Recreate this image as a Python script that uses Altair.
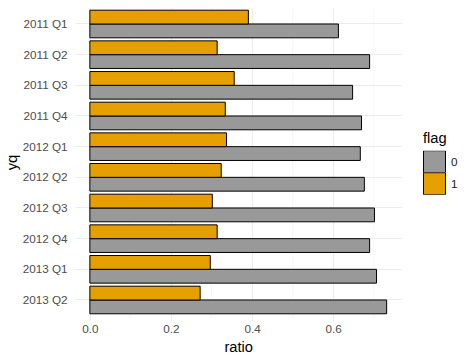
import altair as alt
import pandas as pd

categories = ["2011 Q1", "2011 Q2", "2011 Q3", "2011 Q4", "2012 Q1",
              "2012 Q2", "2012 Q3", "2012 Q4", "2013 Q1", "2013 Q2"]
ratio_flag0 = [0.613, 0.690, 0.648, 0.670, 0.667, 0.677, 0.702, 0.690, 0.707, 0.732]
ratio_flag1 = [0.391, 0.314, 0.356, 0.334, 0.337, 0.324, 0.302, 0.314, 0.297, 0.272]
flags = ["0", "1"]
x_ticks = [0.0, 0.2, 0.4, 0.6]
x_minor = [0.1, 0.3, 0.5, 0.7]

rows = []
for c, v0, v1 in zip(categories, ratio_flag0, ratio_flag1):
    rows.append({"yq": c, "flag": "0", "ratio": v0})
    rows.append({"yq": c, "flag": "1", "ratio": v1})
df = pd.DataFrame(rows)
minor_df = pd.DataFrame({"m": x_minor})

FONT = "Liberation Sans"
xmin, xmax = -0.0366, 0.7686
W = 326.5
H = 310.4

xscale = alt.Scale(domain=[xmin, xmax], nice=False, zero=False)
yscale = alt.Scale(domain=categories, paddingInner=0.1, paddingOuter=0.15, range=[-2.4, H])

xaxis = alt.Axis(values=x_ticks, format=".1f", title="ratio", grid=True,
                 gridColor="#EBEBEB", gridWidth=1.1, ticks=False, domain=False,
                 labelColor="#4D4D4D", labelFontSize=11.7, labelFont=FONT,
                 labelPadding=5, titleFont=FONT, titleFontSize=14.7,
                 titleFontWeight="normal", titleColor="black", titlePadding=4)

minor = alt.Chart(minor_df).mark_rule(color="#F2F2F2", strokeWidth=0.6).encode(
    x=alt.X("m:Q", scale=xscale, axis=xaxis),
    y=alt.value(-2.4),
    y2=alt.value(H),
)

bars = alt.Chart(df).mark_bar(stroke="black", strokeWidth=1, opacity=1).encode(
    x=alt.X("ratio:Q", scale=xscale, axis=xaxis),
    x2=alt.datum(0),
    y=alt.Y("yq:N", scale=yscale, sort=categories,
            axis=alt.Axis(title="yq", grid=True, gridColor="#EBEBEB", gridWidth=1.1,
                          bandPosition=0.5, ticks=False, domain=False,
                          labelColor="#4D4D4D", labelFontSize=11.7, labelFont=FONT,
                          labelPadding=8, titleFont=FONT, titleFontSize=14.7,
                          titleFontWeight="normal", titleColor="black",
                          titleX=-56, titleY=154)),
    yOffset=alt.YOffset("flag:N", sort=["1", "0"], scale=alt.Scale(paddingInner=0, paddingOuter=0)),
    color=alt.Color("flag:N", scale=alt.Scale(domain=flags, range=["#999999", "#E69F00"]),
                    legend=alt.Legend(title="flag", orient="none", legendX=348, legendY=123,
                                      symbolType="square", symbolSize=484,
                                      symbolStrokeColor="black", symbolStrokeWidth=1,
                                      symbolOpacity=1, rowPadding=0, clipHeight=22,
                                      titleFont=FONT, titleFontSize=14.7, titleFontWeight="normal",
                                      titleColor="black", titlePadding=5,
                                      labelFont=FONT, labelFontSize=11.7, labelColor="#1A1A1A",
                                      labelOffset=5)),
)

chart = alt.layer(minor, bars).properties(
    width=W, height=H,
    background="white",
    autosize=alt.AutoSizeParams(type="none"),
    padding={"left": 67, "top": 0, "right": 60, "bottom": 40},
).configure_view(stroke=None)

chart.save("out.html", embed_options={"renderer": "svg", "actions": False})
